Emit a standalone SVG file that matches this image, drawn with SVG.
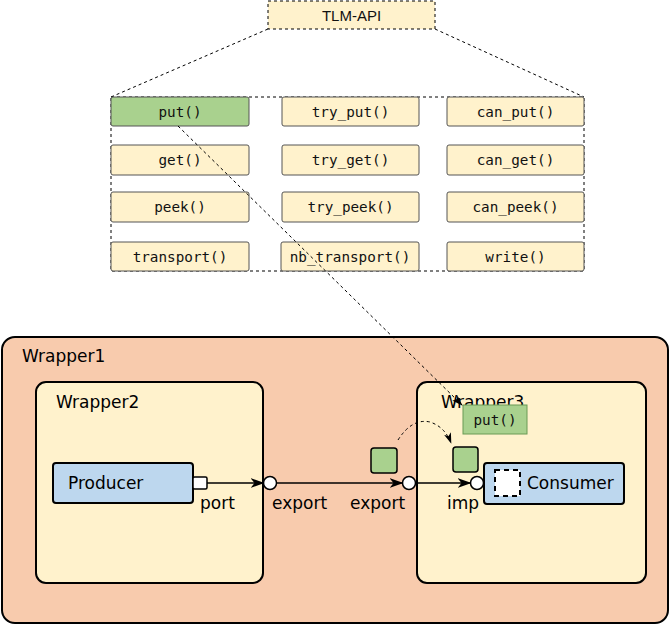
<svg xmlns="http://www.w3.org/2000/svg" width="670" height="625" viewBox="0 0 670 625">
  <defs>
    <style>
      .api { fill: #fff2cc; stroke: #555; stroke-width: 1; }
      .api-hl { fill: #a9d18e; stroke: #555; stroke-width: 1; }
      .mono { font-family: "DejaVu Sans Mono", "Liberation Mono", monospace; font-size: 14.3px; fill: #111; text-anchor: middle; }
      .sans { font-family: "DejaVu Sans", Verdana, sans-serif; font-size: 17px; fill: #000; }
      .dash { fill: none; stroke: #000; stroke-width: 1; stroke-dasharray: 3 3; }
      .wrap { stroke: #000; stroke-width: 2; }
      .block { fill: #bdd7ee; stroke: #000; stroke-width: 2; }
      .flow { fill: none; stroke: #000; stroke-width: 1.3; }
      .pin { fill: #fff; stroke: #000; stroke-width: 1.5; }
      .token { fill: #a9d18e; stroke: #000; stroke-width: 1.5; }
    </style>
    <marker id="arrow" viewBox="0 0 14 10" refX="13" refY="5" markerWidth="14" markerHeight="10" markerUnits="userSpaceOnUse" orient="auto">
      <path d="M0,0 L14,5 L0,10 L4,5 Z" fill="#000"/>
    </marker>
    <marker id="arrow-s" viewBox="0 0 12 8" refX="11" refY="4" markerWidth="11" markerHeight="8" markerUnits="userSpaceOnUse" orient="auto">
      <path d="M0,0 L12,4 L0,8 L3,4 Z" fill="#000"/>
    </marker>
  </defs>

  <!-- TLM-API header and its fan-out to the method table -->
  <g id="tlm-api">
    <rect x="268" y="1" width="167" height="28" fill="#fff2cc" stroke="#000" stroke-width="1" stroke-dasharray="3 3"/>
    <text x="351.5" y="20.5" font-family="Liberation Sans, Arial, sans-serif" font-size="15" text-anchor="middle" fill="#111">TLM-API</text>
    <line class="dash" x1="268" y1="29" x2="111" y2="97"/>
    <line class="dash" x1="435" y1="29" x2="584" y2="97"/>
  </g>

  <!-- Method table -->
  <g id="api-table">
    <rect class="dash" x="111" y="97" width="473" height="174"/>

    <g id="m-put"><rect class="api-hl" x="111" y="97" width="138" height="29" rx="2"/><text class="mono" x="180" y="116.5">put()</text></g>
    <g id="m-try-put"><rect class="api" x="282" y="97" width="137" height="29" rx="2"/><text class="mono" x="350.5" y="116.5">try_put()</text></g>
    <g id="m-can-put"><rect class="api" x="447" y="97" width="137" height="29" rx="2"/><text class="mono" x="515.5" y="116.5">can_put()</text></g>

    <g id="m-get"><rect class="api" x="111" y="145" width="138" height="30" rx="2"/><text class="mono" x="180" y="165">get()</text></g>
    <g id="m-try-get"><rect class="api" x="282" y="145" width="137" height="30" rx="2"/><text class="mono" x="350.5" y="165">try_get()</text></g>
    <g id="m-can-get"><rect class="api" x="447" y="145" width="137" height="30" rx="2"/><text class="mono" x="515.5" y="165">can_get()</text></g>

    <g id="m-peek"><rect class="api" x="111" y="192" width="138" height="30" rx="2"/><text class="mono" x="180" y="212">peek()</text></g>
    <g id="m-try-peek"><rect class="api" x="282" y="192" width="137" height="30" rx="2"/><text class="mono" x="350.5" y="212">try_peek()</text></g>
    <g id="m-can-peek"><rect class="api" x="447" y="192" width="137" height="30" rx="2"/><text class="mono" x="515.5" y="212">can_peek()</text></g>

    <g id="m-transport"><rect class="api" x="111" y="242" width="138" height="29" rx="2"/><text class="mono" x="180" y="261.5">transport()</text></g>
    <g id="m-nb-transport"><rect class="api" x="281" y="242" width="138" height="29" rx="2"/><text class="mono" x="350" y="261.5">nb_transport()</text></g>
    <g id="m-write"><rect class="api" x="447" y="242" width="137" height="29" rx="2"/><text class="mono" x="515.5" y="261.5">write()</text></g>
  </g>

  <!-- Outer wrapper -->
  <g id="wrapper1">
    <rect class="wrap" x="2" y="337" width="666" height="286" rx="13" fill="#f8cbad"/>
    <text class="sans" x="22" y="362" font-size="16.5">Wrapper1</text>
  </g>

  <g id="wrapper2">
    <rect class="wrap" x="36" y="382" width="227" height="201" rx="10" fill="#fff2cc"/>
    <text class="sans" x="56" y="408" font-size="16.5">Wrapper2</text>
  </g>

  <g id="wrapper3">
    <rect class="wrap" x="417" y="382" width="229" height="201" rx="10" fill="#fff2cc"/>
    <text class="sans" x="441" y="408" font-size="16.5">Wrapper3</text>
  </g>

  <g id="producer">
    <rect class="block" x="53" y="463" width="140" height="40" rx="3"/>
    <text class="sans" x="68" y="489">Producer</text>
    <rect class="pin" x="193" y="477" width="14" height="12" rx="1.5"/>
    <text class="sans" x="200" y="509">port</text>
  </g>

  <g id="export-w2">
    <circle class="pin" cx="270" cy="483" r="6.5"/>
    <text class="sans" x="272" y="509">export</text>
  </g>

  <g id="export-w1">
    <circle class="pin" cx="409" cy="483" r="6.5"/>
    <text class="sans" x="350" y="509">export</text>
    <rect class="token" x="371" y="448" width="26" height="25" rx="3"/>
  </g>

  <g id="consumer">
    <rect class="block" x="484" y="463" width="140" height="41" rx="3"/>
    <rect x="495" y="470" width="25" height="26" fill="#fff" stroke="#000" stroke-width="2" stroke-dasharray="5 4"/>
    <text class="sans" x="527" y="489">Consumer</text>
  </g>

  <g id="imp">
    <circle class="pin" cx="477" cy="483" r="6.5"/>
    <text class="sans" x="447" y="509">imp</text>
    <rect class="token" x="453" y="447" width="25" height="25" rx="3"/>
  </g>

  <g id="put-impl">
    <rect x="463" y="405" width="64" height="29" fill="#a9d18e" stroke="#6a9a55" stroke-width="1"/>
    <text class="mono" x="495" y="424.5">put()</text>
  </g>

  <!-- Connectors -->
  <g id="connectors">
    <line class="flow" x1="207" y1="483" x2="263.5" y2="483" stroke="#444" marker-end="url(#arrow)"/>
    <line class="flow" x1="276.5" y1="483" x2="402.5" y2="483" marker-end="url(#arrow)"/>
    <line class="flow" x1="415.5" y1="483" x2="470.5" y2="483" stroke="#444" marker-end="url(#arrow)"/>
    <line class="dash" x1="178" y1="126" x2="462" y2="405" marker-end="url(#arrow-s)"/>
    <path class="dash" d="M398,440 Q412,418 430,422 Q445,427 451,443" marker-end="url(#arrow-s)"/>
  </g>
</svg>
